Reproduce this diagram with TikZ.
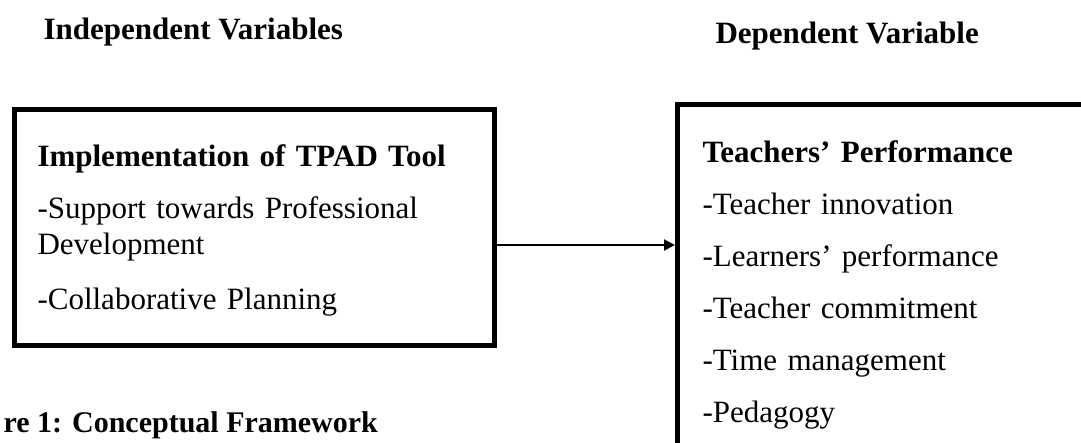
\documentclass[tikz,border=0pt]{standalone}
\usepackage{fontspec}
\setmainfont{Liberation Serif}
\usetikzlibrary{arrows.meta}

\tikzset{
  frame/.style={draw, line width=5pt, rectangle, align=left, inner xsep=23pt},
  heading/.style={anchor=base west, font=\fontsize{31}{36}\selectfont\bfseries}
}

\begin{document}
\begin{tikzpicture}[x=1pt, y=-1pt, font=\fontsize{31}{36}\selectfont]
  \useasboundingbox (0,0) rectangle (1081,442);
  \clip (0,0) rectangle (1081,442);
  \node[heading] (indep) at (40,39) {Independent Variables};
  \node[heading] (dep) at (712,43) {Dependent Variable};
  \node[frame, anchor=north west, text width=434pt, minimum height=236pt, text height=28pt] (impl) at (12,107)
    {\textbf{Implementation of TPAD Tool}\\[16pt]
     -Support towards Professional\\
     Development\\[19pt]
     -Collaborative Planning};
  \node[frame, anchor=north west, inner xsep=25pt, inner ysep=34pt, text width=420pt, text height=24pt] (perf) at (675,102)
    {\textbf{Teachers’ Performance}\\[16pt]
     -Teacher innovation\\[16pt]
     -Learners’ performance\\[16pt]
     -Teacher commitment\\[16pt]
     -Time management\\[16pt]
     -Pedagogy};
  \node[heading, font=\fontsize{30}{36}\selectfont\bfseries] (caption) at (0,432) {re 1: Conceptual Framework};
  \coordinate (link) at (0,245);
  \draw[line width=2pt, -{Triangle[length=11pt, width=11pt]}] (impl.east |- link) -- (perf.west |- link);
\end{tikzpicture}
\end{document}
